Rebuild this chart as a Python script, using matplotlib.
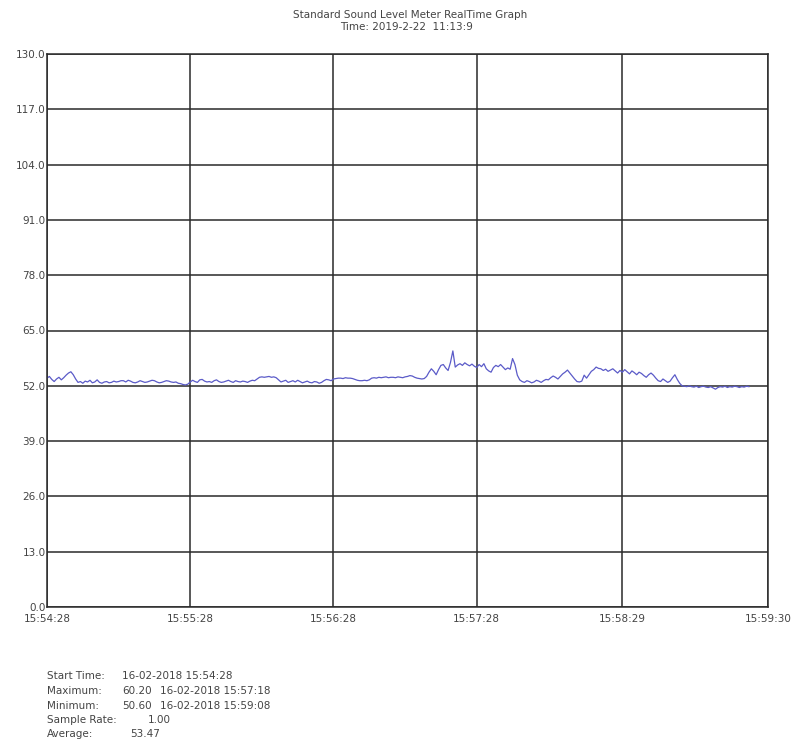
import matplotlib
matplotlib.use("Agg")
import matplotlib.pyplot as plt

W, H = 798, 749

title_line1 = "Standard Sound Level Meter RealTime Graph"
title_line2 = "Time: 2019-2-22  11:13:9"

# seconds since 15:54:28, one sample per second
levels = [
    53.8, 54.2, 53.5, 53.0, 53.6, 54.0, 53.4, 53.9, 54.5, 55.0, 55.3, 54.6, 53.6,
    52.8, 53.0, 52.6, 53.1, 52.9, 53.3, 52.7, 52.9, 53.4, 52.8, 52.6, 52.9, 53.0, 52.7, 52.8, 53.1, 52.9,
    53.0, 53.2, 53.2, 52.9, 53.3, 53.1, 52.8, 52.7, 52.9, 53.2, 53.0, 52.8, 52.9, 53.1, 53.3,
    53.2, 52.9, 52.7, 52.8, 53.0, 53.2, 53.1, 52.9, 52.8, 52.9, 52.6, 52.5, 52.3, 52.2, 52.4,
    52.9, 53.3, 53.0, 52.8, 53.4, 53.5, 53.1, 52.9, 53.0, 52.8, 53.2, 53.4, 53.0, 52.8, 52.9,
    53.1, 53.3, 53.0, 52.8, 53.2, 53.0, 52.9, 53.1, 53.0, 52.8, 53.1, 53.3, 53.2, 53.6, 54.0,
    54.1, 54.0, 54.1, 54.2, 54.0, 54.1, 53.9, 53.4, 52.9, 53.1, 53.3, 52.8, 53.0, 53.2, 52.9,
    53.3, 53.0, 52.7, 52.9, 53.1, 52.8, 52.7, 53.0, 52.9, 52.6, 52.8, 53.2, 53.5, 53.4, 53.2,
    53.6, 53.7, 53.8, 53.8, 53.7, 53.9, 53.8, 53.8, 53.7, 53.5, 53.3, 53.2, 53.2, 53.3, 53.2,
    53.4, 53.8, 53.9, 53.8, 54.0, 53.9, 54.0, 54.1, 53.9, 54.0, 54.0, 53.9, 54.1, 54.0, 53.9,
    54.1, 54.2, 54.4, 54.3, 54.0, 53.8, 53.7, 53.6, 53.7, 54.2, 55.2, 56.0, 55.4, 54.6, 55.8,
    56.8, 57.0, 56.2, 55.6, 57.5, 60.2, 56.4, 56.9, 57.2, 56.8, 57.4, 57.0, 56.7, 57.1, 56.6,
    56.3, 57.0, 56.5, 57.2, 56.0, 55.5, 55.2, 56.3, 56.8, 56.5, 57.0, 56.4, 55.8, 56.2, 55.9,
    58.4, 57.0, 54.5, 53.4, 53.0, 52.8, 53.2, 53.0, 52.7, 52.9, 53.3, 53.1, 52.8, 53.2, 53.5,
    53.4, 53.9, 54.3, 54.0, 53.6, 54.2, 54.8, 55.2, 55.7, 55.0, 54.3, 53.6, 53.0, 52.9, 53.1,
    54.5, 53.8, 54.6, 55.4, 55.8, 56.4, 56.1, 56.0, 55.6, 55.9, 55.4, 55.7, 56.0, 55.5, 55.0,
    55.6, 55.2, 55.8, 55.3, 54.8, 55.5, 55.1, 54.6, 55.2, 54.9, 54.4, 54.0, 54.6, 55.0, 54.5,
    53.8, 53.2, 53.0, 53.6, 53.2, 52.8, 53.1, 53.9, 54.6, 53.5, 52.6, 52.0, 51.9, 51.8, 52.0,
    51.8, 51.7, 51.9, 51.6, 51.8, 51.9, 51.7, 51.6, 51.8, 51.5, 51.2,
    51.6, 51.8, 51.7, 51.9, 51.6, 51.8, 51.7, 51.9, 51.8, 51.6, 51.8, 51.7, 51.9, 51.8,
]
seconds = list(range(len(levels)))

y_ticks = [0, 13, 26, 39, 52, 65, 78, 91, 104, 117, 130]
y_tick_labels = ["0.0", "13.0", "26.0", "39.0", "52.0", "65.0", "78.0",
                 "91.0", "104.0", "117.0", "130.0"]
x_ticks = [0, 60, 120, 180, 241, 302]
x_tick_labels = ["15:54:28", "15:55:28", "15:56:28", "15:57:28", "15:58:29", "15:59:30"]

stat_labels = ["Start Time:", "Maximum:", "Minimum:", "Sample Rate:", "Average:"]
stat_values = ["16-02-2018 15:54:28", "60.20", "50.60", "1.00", "53.47"]
stat_dates = ["", "16-02-2018 15:57:18", "16-02-2018 15:59:08", "", ""]

plt.rcParams['font.family'] = ['DejaVu Sans']

fig = plt.figure(figsize=(W / 100, H / 100), dpi=100)
fig.patch.set_facecolor("white")

L, R, T, B = 47, 768, 54, 607
ax = fig.add_axes([L / W, 1 - B / H, (R - L) / W, (B - T) / H])

ax.plot(seconds, levels, color="#5b5bc8", lw=0.9)

ax.set_xlim(0, 302)
ax.set_ylim(0, 130)
ax.set_yticks(y_ticks)
ax.set_yticklabels(y_tick_labels)
ax.set_xticks(x_ticks)
ax.set_xticklabels(x_tick_labels)
ax.tick_params(axis="both", length=0, labelsize=7.5, colors="#444444")
ax.tick_params(axis="y", pad=1)
ax.tick_params(axis="x", pad=5)
ax.grid(True, color="#2a2a2a", lw=1.1)
for s in ax.spines.values():
    s.set_color("#2a2a2a")
    s.set_linewidth(1.1)

fig.text(410 / W, 1 - 15 / H, title_line1, ha="center", va="center", fontsize=7.5, color="#444444")
fig.text(407 / W, 1 - 27 / H, title_line2, ha="center", va="center", fontsize=7.5, color="#444444")

ys = [676, 691, 706, 720, 734]
val_x = [122, 122, 122, 148, 130]
for lab, val, date, y, vx in zip(stat_labels, stat_values, stat_dates, ys, val_x):
    fig.text(47 / W, 1 - y / H, lab, ha="left", va="center", fontsize=7.5, color="#444444")
    fig.text(vx / W, 1 - y / H, val, ha="left", va="center", fontsize=7.5, color="#444444")
    if date:
        fig.text(160 / W, 1 - y / H, date, ha="left", va="center", fontsize=7.5, color="#444444")

fig.savefig("out.png", dpi=100, facecolor="white")
